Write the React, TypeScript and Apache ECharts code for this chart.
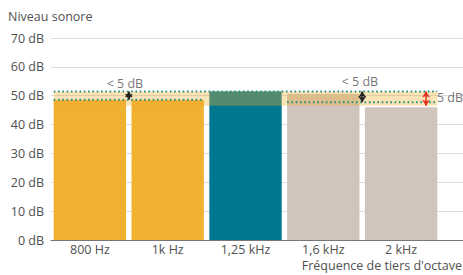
import React, { useEffect, useRef } from "react";
import * as echarts from "echarts";

const categories = ["800 Hz", "1k Hz", "1,25 kHz", "1,6 kHz", "2 kHz"];
const levels = [48.5, 48.5, 51.5, 50.6, 46];
const barColors = ["#F0B030", "#F0B030", "#00778F", "#D0C4BC", "#D0C4BC"];
const yMin = 0;
const yMax = 70;
const yStep = 10;
const band = [46.5, 51.5];
const upperLevel = 51.5;
const lowerLeftLevel = 48.6;
const lowerRightLevel = 47.7;
const barHalf = 0.465;
// arrows: [x position (category index units), from, to, color]
const arrows: [number, number, number, string][] = [
  [0.5, 48.6, 51.5, "#222222"],
  [3.5, 47.7, 51.5, "#222222"],
  [4.32, 46.5, 51.5, "#E0321E"],
];
// annotation texts: [x, y, text, align]
const notes: [number, number, string, string][] = [
  [0.45, 54.4, "< 5 dB", "center"],
  [3.47, 55.0, "< 5 dB", "center"],
  [4.46, 49.5, "5 dB", "left"],
];

const FONT = "Open Sans";
const FS = 12.5;
const TXT = "#505050";

export default function App() {
  const ref = useRef<HTMLDivElement>(null);
  useEffect(() => {
    if (!ref.current) return;
    const chart = echarts.init(ref.current, undefined, { renderer: "svg" });
    const dotted = {
      color: "#22907F",
      width: 2,
      type: [1.6, 2.7] as any,
    };
    chart.setOption({
      animation: false,
      textStyle: { fontFamily: FONT, color: TXT },
      grid: [
        { left: 51, right: 0, top: 38, bottom: 35 },
        { left: 51, right: 23, top: 38, bottom: 35 },
      ],
      xAxis: [
        {
          type: "value",
          gridIndex: 0,
          min: 0,
          max: 1,
          axisLine: { show: true, lineStyle: { color: "#777", width: 1 } },
          axisTick: { show: false },
          axisLabel: { show: false },
          splitLine: { show: false },
        },
        {
          type: "category",
          gridIndex: 1,
          data: categories,
          axisLine: { show: false },
          axisTick: { show: false },
          axisLabel: { color: TXT, fontFamily: FONT, fontSize: FS, margin: 3 },
        },
        {
          type: "value",
          gridIndex: 1,
          min: -0.5,
          max: 4.5,
          show: false,
        },
      ],
      yAxis: [
        {
          type: "value",
          gridIndex: 0,
          min: yMin,
          max: yMax,
          interval: yStep,
          axisLine: { show: false },
          axisTick: { show: false },
          axisLabel: {
            formatter: "{value} dB",
            color: TXT,
            fontFamily: FONT,
            fontSize: FS,
            margin: 7,
          },
          splitLine: { lineStyle: { color: "#dcdcdc", width: 1 } },
        },
        {
          type: "value",
          gridIndex: 1,
          min: yMin,
          max: yMax,
          show: false,
        },
      ],
      graphic: [
        {
          type: "text",
          left: 8,
          top: 10,
          style: { text: "Niveau sonore", fill: TXT, font: `${FS}px '${FONT}'` },
        },
        {
          type: "text",
          right: 1,
          top: 259,
          style: { text: "Fréquence de tiers d'octave", fill: TXT, font: `${FS}px '${FONT}'` },
        },
      ],
      series: [
        {
          type: "bar",
          xAxisIndex: 1,
          yAxisIndex: 1,
          barCategoryGap: "7%",
          z: 2,
          data: levels.map((v, i) => ({ value: v, itemStyle: { color: barColors[i] } })),
        },
        {
          type: "line",
          xAxisIndex: 2,
          yAxisIndex: 1,
          symbol: "none",
          z: 6,
          lineStyle: dotted,
          data: [
            [-barHalf, upperLevel],
            [4 + barHalf, upperLevel],
          ],
          markArea: {
            silent: true,
            z: 5,
            itemStyle: { color: "rgba(240,176,48,0.35)" },
            data: [
              [
                { coord: [-barHalf, band[0]] },
                { coord: [4 + barHalf, band[1]] },
              ],
            ],
          },
          markLine: {
            silent: true,
            z: 7,
            symbol: ["arrow", "arrow"],
            symbolSize: [6, 6],
            label: { show: false },
            data: arrows.map(([x, a, b, c]) => [
              { coord: [x, a], lineStyle: { color: c, width: 1.5, type: "solid" }, itemStyle: { color: c } },
              { coord: [x, b] },
            ]),
          },
        },
        {
          type: "line",
          xAxisIndex: 2,
          yAxisIndex: 1,
          symbol: "none",
          z: 6,
          lineStyle: dotted,
          data: [
            [-barHalf, lowerLeftLevel],
            [1 + barHalf, lowerLeftLevel],
          ],
        },
        {
          type: "line",
          xAxisIndex: 2,
          yAxisIndex: 1,
          symbol: "none",
          z: 6,
          lineStyle: dotted,
          data: [
            [3 - barHalf, lowerRightLevel],
            [4 + barHalf, lowerRightLevel],
          ],
        },
        {
          type: "scatter",
          xAxisIndex: 2,
          yAxisIndex: 1,
          symbolSize: 0,
          z: 8,
          silent: true,
          data: notes.map(([x, y, t, align]) => ({
            value: [x, y],
            label: {
              show: true,
              position: align === "left" ? "right" : "inside",
              distance: 0,
              formatter: t,
              color: TXT,
              fontFamily: FONT,
              fontSize: FS,
            },
          })),
        },
      ],
    });
    return () => chart.dispose();
  }, []);
  return (
    <div
      ref={ref}
      style={{ position: "fixed", left: 0, top: 0, width: 463, height: 275, background: "#fff" }}
    />
  );
}
